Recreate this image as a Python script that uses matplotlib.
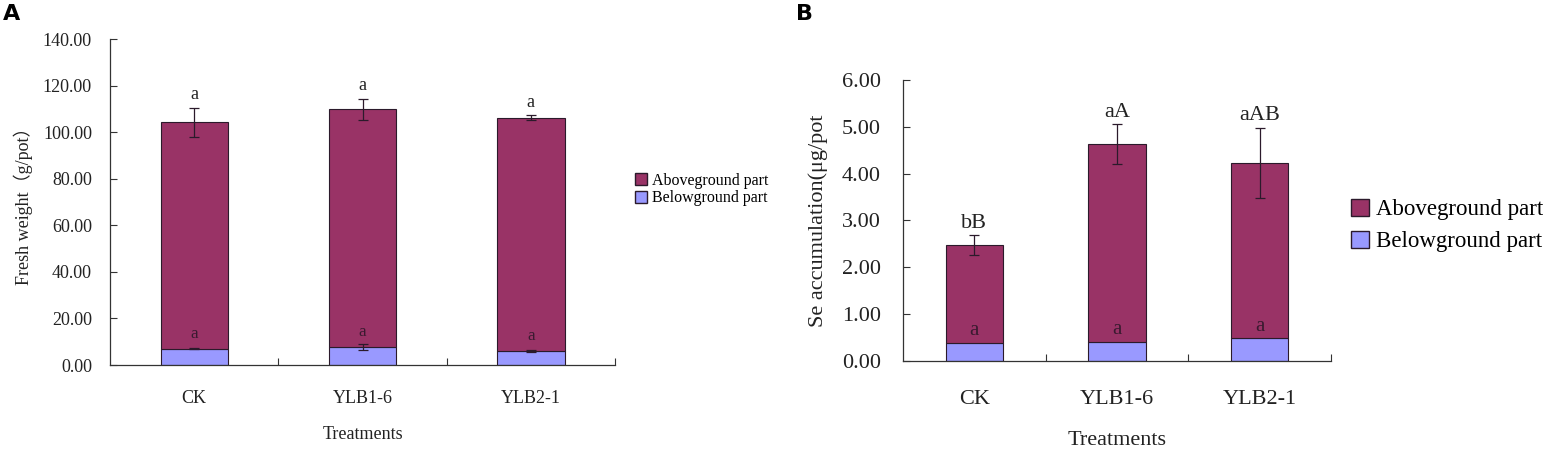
import matplotlib
matplotlib.use("Agg")
import matplotlib.pyplot as plt
from matplotlib.patches import Patch
import numpy as np

plt.rcParams["font.family"] = ["Liberation Serif", "Noto Sans CJK SC", "DejaVu Serif"]

treatments = ["CK", "YLB1-6", "YLB2-1"]

# panel A: fresh weight (g/pot)
fw_total = [104.3, 109.8, 106.3]
fw_total_err = [6.2, 4.5, 0.9]
fw_below = [7.0, 7.9, 6.1]
fw_below_err = [0.3, 1.3, 0.4]
fw_top_labels = ["a", "a", "a"]
fw_below_labels = ["a", "a", "a"]

# panel B: Se accumulation (ug/pot)
se_total = [2.47, 4.63, 4.23]
se_total_err = [0.22, 0.43, 0.75]
se_below = [0.385, 0.41, 0.48]
se_top_labels = ["bB", "aA", "aAB"]
se_below_labels = ["a", "a", "a"]

ABOVE = "#993366"
BELOW = "#9999FF"
EDGE = "#2b1a2b"


def draw_panel(ax, total, total_err, below, below_err, top_labels, below_labels,
               ymax, ystep, ylabel, fs, lab_off, low_lab, ypad, ylabpad, xpad, xlabpad):
    x = np.arange(len(treatments))
    above = np.array(total) - np.array(below)
    ax.bar(x, below, width=0.4, color=BELOW, edgecolor=EDGE, linewidth=0.8)
    ax.bar(x, above, width=0.4, bottom=below, color=ABOVE, edgecolor=EDGE, linewidth=0.8)
    ax.errorbar(x, total, yerr=total_err, fmt="none", ecolor=EDGE, elinewidth=0.9,
                capsize=3.5, capthick=0.9)
    if below_err is not None:
        ax.errorbar(x, below, yerr=below_err, fmt="none", ecolor=EDGE, elinewidth=0.9,
                    capsize=3.5, capthick=0.9)
    tops = np.array(total) + np.array(total_err)
    for i in range(len(x)):
        ax.text(x[i], tops[i] + lab_off, top_labels[i], ha="center", va="bottom",
                fontsize=fs, color="#222222")
        ax.text(x[i], below[i] + low_lab, below_labels[i], ha="center", va="bottom",
                fontsize=fs * 0.95, color="#3a1a30")
    ax.set_xlim(-0.5, 2.5)
    ax.set_ylim(0, ymax)
    ticks = np.arange(0, ymax + ystep / 2, ystep)
    ax.set_yticks(ticks)
    ax.set_yticklabels([f"{v:.2f}" for v in ticks], fontsize=fs)
    ax.set_xticks([0.5, 1.5, 2.5])
    ax.set_xticklabels([])
    ax.set_xticks(x, minor=True)
    ax.set_xticklabels(treatments, minor=True, fontsize=fs)
    ax.tick_params(axis="x", which="major", direction="in", length=5, color="#333333")
    ax.tick_params(axis="x", which="minor", length=0, pad=xpad, labelcolor="#222222")
    ax.tick_params(axis="y", direction="in", length=5, color="#333333", pad=ypad,
                   labelcolor="#222222")
    for s in ["top", "right"]:
        ax.spines[s].set_visible(False)
    for s in ["left", "bottom"]:
        ax.spines[s].set_color("#333333")
        ax.spines[s].set_linewidth(0.9)
    ax.set_ylabel(ylabel, fontsize=fs, color="#222222", labelpad=ylabpad)
    ax.set_xlabel("Treatments", fontsize=fs, color="#222222", labelpad=xlabpad)


fig = plt.figure(figsize=(15.43, 4.49), dpi=100)
axA = fig.add_axes([0.0713, 0.187, 0.3273, 0.726])
axB = fig.add_axes([0.5852, 0.1967, 0.2774, 0.6251])

draw_panel(axA, fw_total, fw_total_err, fw_below, fw_below_err, fw_top_labels,
           fw_below_labels, 140, 20, "Fresh weight\uff08g/pot\uff09", 13, 2.0, 3.0,
           13, 7, 18, 14)
draw_panel(axB, se_total, se_total_err, se_below, None, se_top_labels,
           se_below_labels, 6, 1, "Se accumulation(\u03bcg/pot", 16, 0.05, 0.05,
           16, 10, 21, 16)

handles = [Patch(facecolor=ABOVE, edgecolor=EDGE, label="Aboveground part"),
           Patch(facecolor=BELOW, edgecolor=EDGE, label="Belowground part")]
fig.legend(handles=handles, loc="center left", bbox_to_anchor=(0.402, 0.578),
           frameon=False, fontsize=11.5, handlelength=0.8, handleheight=0.8,
           handletextpad=0.3, labelspacing=0.1)
fig.legend(handles=handles, loc="center left", bbox_to_anchor=(0.862, 0.498),
           frameon=False, fontsize=16.5, handlelength=0.8, handleheight=0.8,
           handletextpad=0.3, labelspacing=0.45)

fig.text(0.002, 0.955, "A", fontsize=16, fontweight="bold", family="DejaVu Sans")
fig.text(0.516, 0.955, "B", fontsize=16, fontweight="bold", family="DejaVu Sans")

fig.savefig("out.png", dpi=100)
